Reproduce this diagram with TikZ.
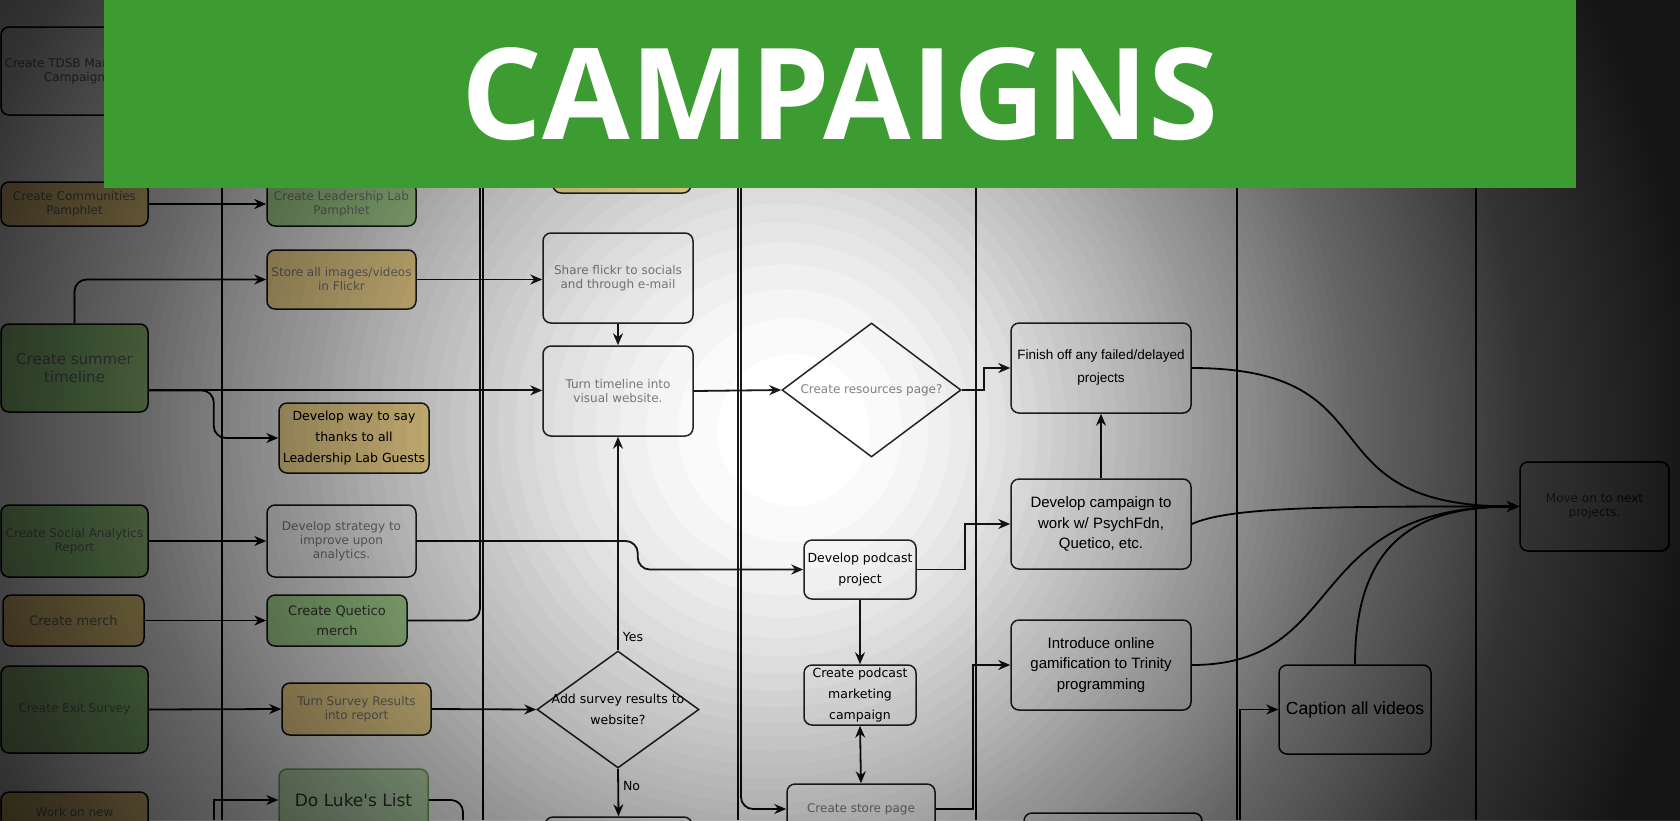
\documentclass[tikz,border=0pt]{standalone}
\usepackage{fontspec}
\usetikzlibrary{arrows.meta,calc,positioning,shapes.geometric}

\newfontfamily\dvfont{DejaVu Sans}
\newfontfamily\arfont{Liberation Sans}
\newfontfamily\titlefont{Open Sans}

\definecolor{tanfill}{HTML}{FFE49A}
\definecolor{leaf}{HTML}{B4E09C}
\definecolor{lukefill}{HTML}{C8E8BE}
\definecolor{lukeline}{HTML}{7FB070}
\definecolor{inkgray}{HTML}{828282}
\definecolor{darkink}{HTML}{404040}
\definecolor{banner}{HTML}{3D9C31}

\tikzset{sz/.style 2 args={minimum width=#1*0.5pt, minimum height=#2*0.5pt}}

\begin{document}
\begin{tikzpicture}[
    x=0.5pt, y=-0.5pt,
    box/.style={draw=black!85, line width=0.75pt, rounded corners=4pt, inner sep=0pt, align=center},
    dia/.style={draw=black!85, line width=0.75pt, diamond, inner sep=0pt, align=center, fill=white},
    small/.style={font=\dvfont\fontsize{6}{7}\selectfont, text=inkgray},
    dark/.style={font=\dvfont\fontsize{6.25}{10.5}\selectfont, text=black},
    arial/.style={font=\arfont\fontsize{7.5}{10.25}\selectfont, text=black},
    lbl/.style={font=\dvfont\fontsize{6.25}{7}\selectfont, text=black, inner sep=2pt},
    conn/.style={draw=black!90, line width=0.9pt, -{Stealth[length=6pt,width=5pt]}},
    both/.style={draw=black!90, line width=0.9pt, {Stealth[length=6pt,width=5pt]}-{Stealth[length=6pt,width=5pt]}},
    line/.style={draw=black!90, line width=0.9pt},
    lane/.style={draw=black!90, line width=1pt},
    shade/.style={fill=black, fill opacity=0.02, even odd rule}
]

\useasboundingbox (0,0) rectangle (1680,820);
\clip (0,0) rectangle (1680,820);
\fill[white] (0,0) rectangle (1680,820);

\foreach \lx in {222,483,738,976,1237,1476}
    \draw[lane] (\lx,0) -- (\lx,820);

\node[box, small, fill=white, sz={147}{88}] (tdsb) at (74.5,71) {Create TDSB Marketing\\Campaign};
\node[box, small, fill=tanfill, sz={147}{44}] (comm) at (74.5,204) {Create Communities\\Pamphlet};
\node[box, fill=leaf, sz={147}{88}, font=\dvfont\fontsize{7.5}{9}\selectfont, text=inkgray] (summer) at (74.5,368) {Create summer\\timeline};
\node[box, small, fill=leaf, sz={147}{72}] (social) at (74.5,541) {Create Social Analytics\\Report};
\node[box, fill=tanfill, sz={141}{51}, font=\dvfont\fontsize{6.5}{8}\selectfont, text=inkgray] (merch) at (73.5,620.5) {Create merch};
\node[box, small, fill=leaf, sz={147}{87}] (exit) at (74.5,709.5) {Create Exit Survey};
\node[box, small, fill=tanfill, sz={147}{40}] (work) at (74.5,812) {Work on new};

\node[box, small, fill=leaf, sz={149}{44}] (lab) at (341.5,204) {Create Leadership Lab\\Pamphlet};
\node[box, small, fill=tanfill, sz={149}{59}] (flickr) at (341.5,279.5) {Store all images/videos\\in Flickr};
\node[box, dark, fill=tanfill, sz={150}{70}] (thanks) at (354,438) {Develop way to say\\thanks to all\\Leadership Lab Guests};
\node[box, small, fill=white, sz={149}{72}] (strategy) at (341.5,541) {Develop strategy to\\improve upon\\analytics.};
\node[box, fill=leaf, sz={140}{51}, font=\dvfont\fontsize{6.5}{10}\selectfont, text=darkink] (quetico) at (337,620.5) {Create Quetico\\merch};
\node[box, small, fill=tanfill, sz={149}{52}] (survey) at (356.5,709) {Turn Survey Results\\into report};
\node[box, fill=lukefill, draw=lukeline, sz={149}{62}, font=\dvfont\fontsize{8.5}{10}\selectfont, text=darkink] (luke) at (353.5,800) {Do Luke's List};

\node[box, fill=tanfill, sz={138}{60}] (upper) at (622,163) {};
\node[box, small, fill=white, sz={150}{90}] (share) at (618,278) {Share flickr to socials\\and through e-mail};
\node[box, small, fill=white, sz={150}{90}] (website) at (618,391) {Turn timeline into\\visual website.};
\node[dia, dark, sz={162}{117}, aspect=1.385, inner sep=-2pt] (addsurvey) at (618,709.5) {Add survey results to\\website?};
\node[box, fill=white, sz={147}{66}] (nobox) at (618.5,850) {};

\node[dia, small, sz={179}{134}, aspect=1.34] (resources) at (871.5,390) {Create resources page?};
\node[box, dark, fill=white, sz={112}{59}] (podcast) at (860,569.5) {Develop podcast\\project};
\node[box, dark, fill=white, sz={112}{60}] (marketing) at (860,695) {Create podcast\\marketing\\campaign};
\node[box, small, fill=white, sz={148}{50}] (store) at (861,809) {Create store page};

\node[box, fill=white, sz={180}{90}, font=\arfont\fontsize{6.75}{11.5}\selectfont] (finish) at (1101,368) {Finish off any failed/delayed\\projects};
\node[box, arial, fill=white, sz={180}{90}] (campaign) at (1101,524) {Develop campaign to\\work w/ PsychFdn,\\Quetico, etc.};
\node[box, arial, fill=white, sz={180}{90}] (gamify) at (1101,665) {Introduce online\\gamification to Trinity\\programming};
\node[box, fill=white, sz={178}{66}] (lowbox) at (1113,846) {};

\node[box, fill=white, sz={152}{89}, font=\arfont\fontsize{8.75}{10}\selectfont] (caption) at (1355,709.5) {Caption all videos};
\node[box, small, fill=white, sz={149}{89}] (moveon) at (1594.5,506.5) {Move on to next\\projects.};

\coordinate (sumout) at ($(summer.south east)!0.25!(summer.north east)$);
\coordinate (qtop) at (480,0);
\coordinate (storetop) at (741,0);
\coordinate (capin) at (1240,820);
\coordinate (lukein) at (214,820);
\coordinate (lukeout) at (463,820);

\draw[conn] (comm.east) -- (lab.west);
\draw[conn] (flickr.east) -- (flickr.east -| share.west);
\draw[conn, rounded corners=6pt] (summer.north) |- (flickr.west);
\draw[conn] (sumout) -- (sumout -| website.west);
\draw[conn, rounded corners=6pt] (sumout) -- ++(65,0) |- (thanks.west);
\draw[conn] (share.south) -- (website.north);
\draw[conn] (website.east) -- (resources.west);
\draw[conn] (resources.east) -- ++(22,0) |- (finish.west);
\draw[conn] (social.east) -- (strategy.west);
\draw[conn, rounded corners=6pt] (strategy.east) -- ++(221,0) |- (podcast.west);
\draw[conn] (merch.east) -- (quetico.west);
\draw[line, rounded corners=6pt] (quetico.east) -| (qtop);
\draw[conn] (exit.east) -- (survey.west);
\draw[conn] (survey.east) -- (addsurvey.west);
\draw[conn] (addsurvey.north) -- node[lbl, pos=0.06, anchor=west] (yes) {Yes} (website.south);
\draw[conn] (addsurvey.south) -- node[lbl, pos=0.37, anchor=west] (no) {No} (nobox.north);
\draw[conn] (podcast.south) -- (marketing.north);
\draw[both] (marketing.south) -- (store.north);
\draw[conn, rounded corners=6pt] (storetop) |- (store.west);
\draw[conn] (store.east) -- ++(37,0) |- (gamify.west);
\draw[conn] (podcast.east) -- ++(48,0) |- (campaign.west);
\draw[conn] (campaign.north) -- (finish.south);
\draw[conn] (finish.east) .. controls +(209,0) and +(-220,0) .. (moveon.west);
\draw[conn] (campaign.east) .. controls +(40,-18) and +(-180,0) .. (moveon.west);
\draw[conn] (gamify.east) .. controls +(159,0) and +(-220,0) .. (moveon.west);
\draw[conn] (caption.north) .. controls +(0,-125) and +(-100,0) .. (moveon.west);
\draw[conn] (capin) |- (caption.west);
\draw[conn] (lukein) |- (luke.west);
\draw[line, rounded corners=6pt] (luke.east) -| (lukeout);

\foreach \n in {1,...,95}{
    \pgfmathsetmacro\rr{76*\n^0.5618}
    \pgfmathsetmacro\cx{800-0.09*\rr}
    \fill[shade] (-20,-20) rectangle (1700,840) (\cx,430) circle[radius=\rr];
}

\node[fill=banner, minimum width=736pt, minimum height=94pt, inner sep=0pt, text=white,
    font=\titlefont\bfseries\fontsize{63.5}{70}\selectfont] (banner) at (840,94) {CAMPAIGNS};

\end{tikzpicture}
\end{document}
